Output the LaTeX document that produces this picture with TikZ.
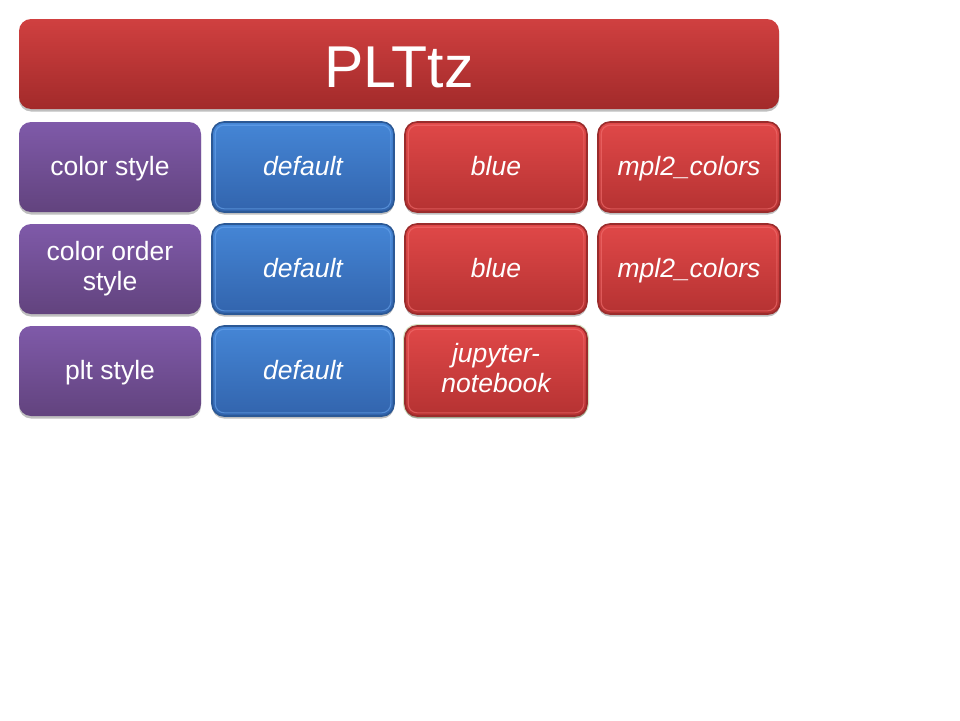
\documentclass[tikz,border=0pt]{standalone}
\usepackage{fontspec}
\setmainfont{Liberation Sans}
\usetikzlibrary{shadows}
\definecolor{titT}{HTML}{D04040}
\definecolor{titB}{HTML}{A22A2A}
\definecolor{purpT}{HTML}{7F5AA9}
\definecolor{purpB}{HTML}{62437E}
\definecolor{blueT}{HTML}{4586D6}
\definecolor{blueB}{HTML}{3264AD}
\definecolor{blueE}{HTML}{2B5895}
\definecolor{blueL}{HTML}{6AA6EE}
\definecolor{redT}{HTML}{E04848}
\definecolor{redB}{HTML}{B53232}
\definecolor{redE}{HTML}{9A2C2C}
\definecolor{redL}{HTML}{F27070}
\definecolor{glow}{HTML}{D5E2C4}
\begin{document}
\begin{tikzpicture}[x=1pt,y=-1pt,
  base/.style={rectangle, rounded corners=12pt, minimum width=182pt, minimum height=90pt,
    inner sep=2pt, text=white, align=center, font=\fontsize{26.5}{30}\selectfont,
    drop shadow={shadow xshift=0pt, shadow yshift=-2.5pt, opacity=0.25, fill=black}},
  oneline/.style={text height=23pt, text depth=7pt},
  hdr/.style={base, top color=purpT, bottom color=purpB},
  bluebtn/.style={base, top color=blueT, bottom color=blueB, draw=blueE, line width=1.6pt,
    font=\fontsize{26.5}{30}\selectfont\itshape},
  redbtn/.style={base, top color=redT, bottom color=redB, draw=redE, line width=1.6pt,
    font=\fontsize{26.5}{30}\selectfont\itshape},
  titlebox/.style={base, minimum width=760pt, top color=titT, bottom color=titB,
    font=\fontsize{59}{66}\selectfont, text height=50pt, text depth=4pt},
  ring/.style={rounded corners=9pt, line width=1.1pt, opacity=0.6}
]
\useasboundingbox[fill=white] (0,0) rectangle (960,720);

\node[titlebox] (title) at (399,64) {PLTtz};

\node[hdr, oneline] (h1) at (110,167) {color style};
\node[hdr] (h2) at (110,269) {color order\\style};
\node[hdr, oneline] (h3) at (110,371) {plt style};

\draw[glow, line width=2pt, rounded corners=13pt] (404,325) rectangle (588,417);

\node[bluebtn, oneline] (b1) at (303,167) {default};
\node[bluebtn, oneline] (b2) at (303,269) {default};
\node[bluebtn, oneline] (b3) at (303,371) {default};

\node[redbtn, oneline] (r1) at (496,167) {blue};
\node[redbtn, oneline] (r2) at (496,269) {blue};
\node[redbtn] (r3) at (496,371) {jupyter-\\notebook\vphantom{y}};
\node[redbtn, oneline] (m1) at (689,167) {mpl2\_colors};
\node[redbtn, oneline] (m2) at (689,269) {mpl2\_colors};

\foreach \n in {b1,b2,b3}
  \draw[ring, draw=blueL] ([shift={(4pt,-4pt)}]\n.north west) rectangle ([shift={(-4pt,4pt)}]\n.south east);
\foreach \n in {r1,r2,r3,m1,m2}
  \draw[ring, draw=redL] ([shift={(4pt,-4pt)}]\n.north west) rectangle ([shift={(-4pt,4pt)}]\n.south east);
\end{tikzpicture}
\end{document}
